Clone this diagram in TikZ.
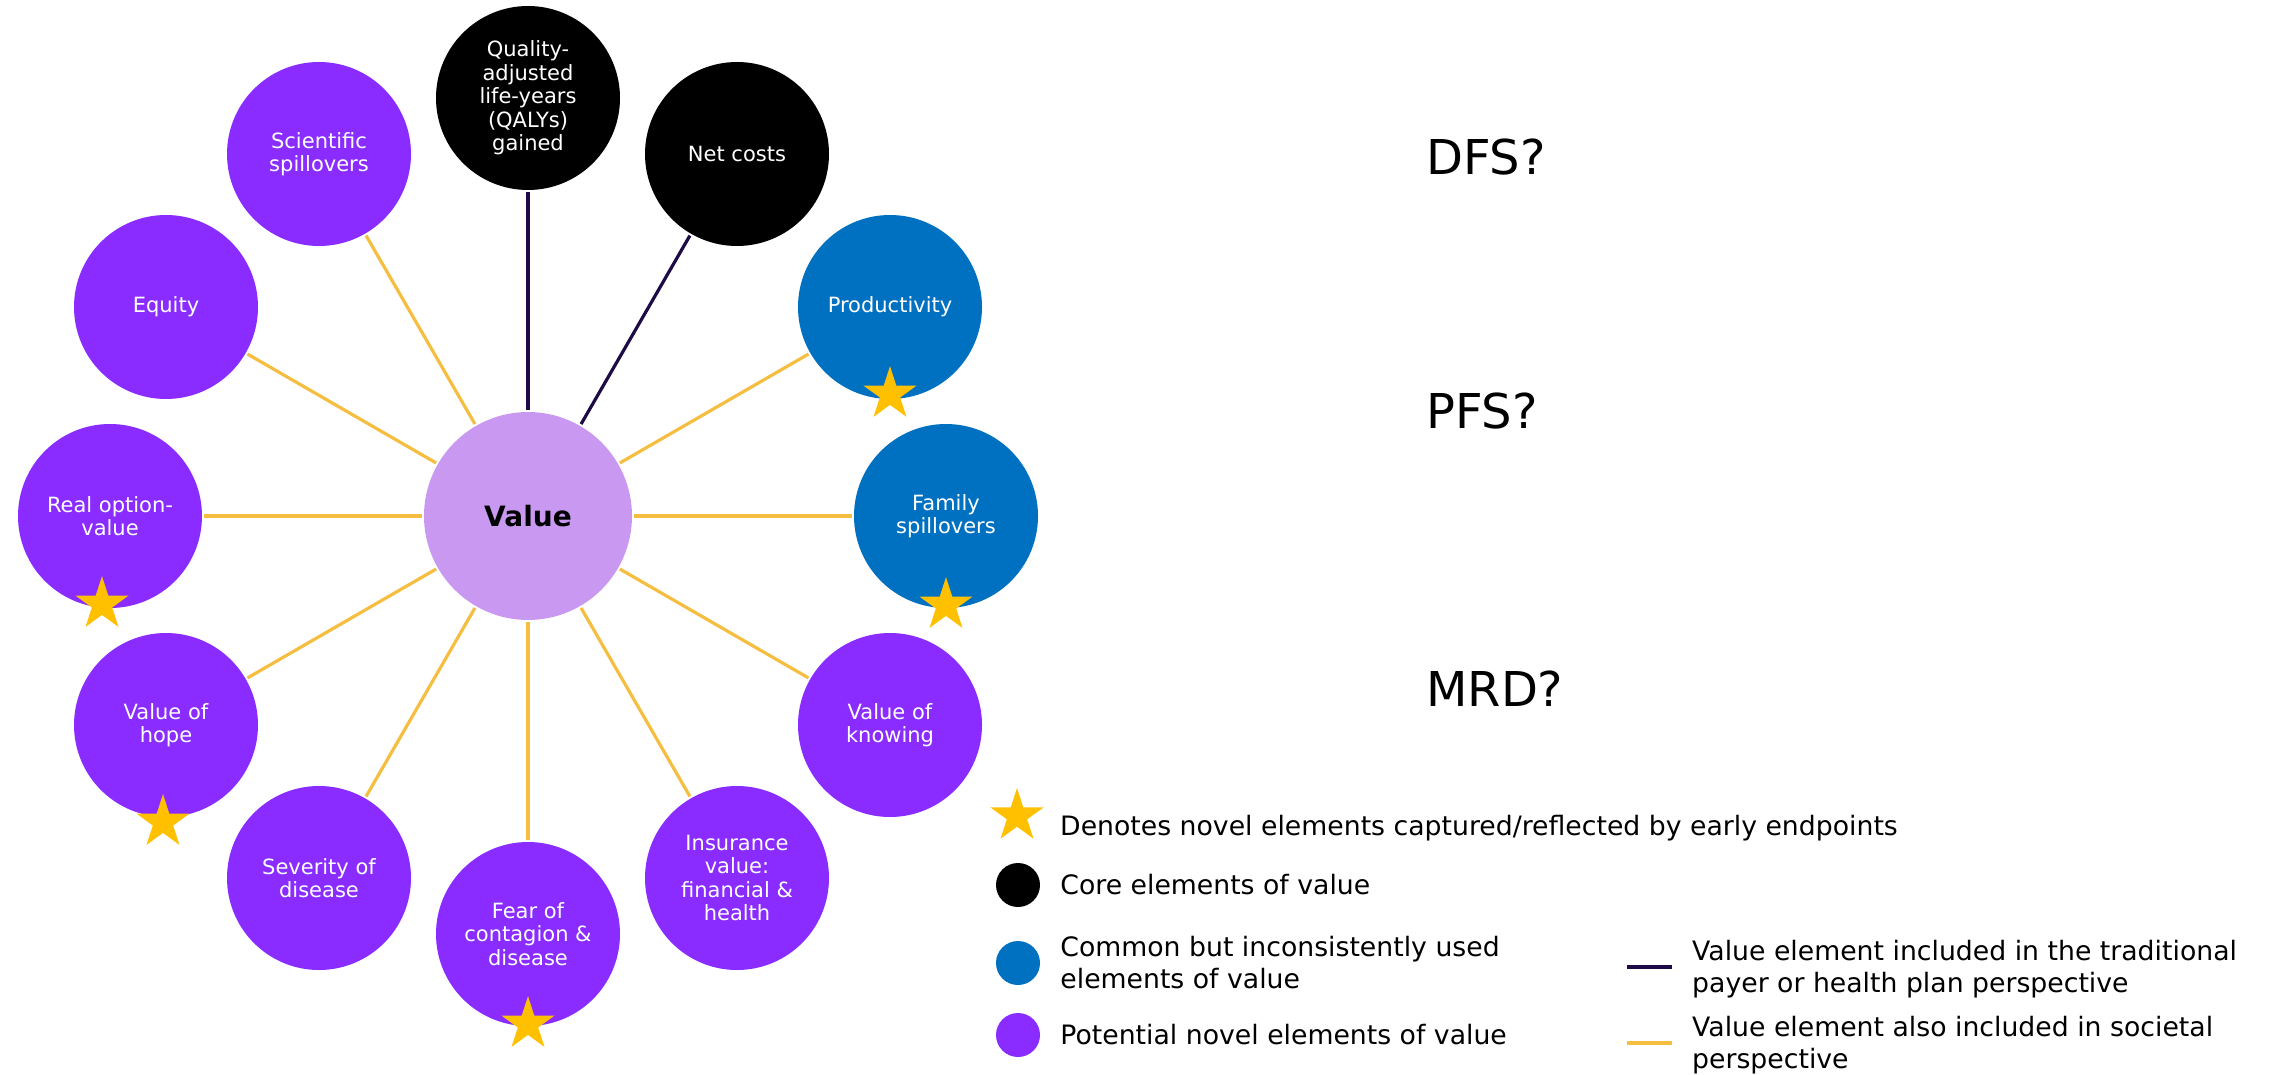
\documentclass[tikz,border=0pt]{standalone}
\usepackage{fontspec}
\setmainfont{DejaVu Sans}
\usetikzlibrary{shapes.geometric,positioning,calc}

\definecolor{commoncol}{HTML}{0070C0}
\definecolor{novelcol}{HTML}{8A2BFF}
\definecolor{valuecol}{HTML}{C999F2}
\definecolor{payercol}{HTML}{1E0A46}
\definecolor{societycol}{HTML}{F5BE41}
\definecolor{starcol}{HTML}{FFC000}

\tikzset{
  elem/.style={circle,minimum size=184pt,inner sep=0pt,text=white,align=center,
    font=\fontsize{21}{23.5}\selectfont},
  core/.style={elem,fill=black},
  common/.style={elem,fill=commoncol},
  novel/.style={elem,fill=novelcol},
  payer/.style={draw=payercol,line width=3.2pt,shorten <=2pt,shorten >=2pt},
  society/.style={draw=societycol,line width=3.2pt,shorten <=2pt,shorten >=2pt},
  novelstar/.style={star,star points=5,star point ratio=2.618,fill=starcol,
    minimum size=56pt,inner sep=0pt},
  legdot/.style={circle,minimum size=44pt,inner sep=0pt},
  legtext/.style={inner sep=0pt,align=left,anchor=west,
    font=\fontsize{26.7}{32}\selectfont},
  question/.style={inner sep=0pt,anchor=west,font=\fontsize{48}{56}\selectfont}
}

\begin{document}
\begin{tikzpicture}[x=1pt,y=1pt]
\useasboundingbox (0,0) rectangle (2269,-1075);
% ---------- centre ----------
\node[circle,fill=valuecol,minimum size=208pt,inner sep=0pt,
  font=\fontsize{28}{32}\selectfont\bfseries] (value) at (528,-516) {Value};
% ---------- elements of value ----------
\node[core]   (qaly)    at ($(value)+(90:418)$)  {Quality-\\adjusted\\life-years\\(QALYs)\\gained};
\node[core]   (costs)   at ($(value)+(60:418)$)  {Net costs};
\node[common] (prod)    at ($(value)+(30:418)$)  {Productivity};
\node[common] (family)  at ($(value)+(0:418)$)   {Family\\spillovers};
\node[novel]  (knowing) at ($(value)+(-30:418)$) {Value of\\knowing};
\node[novel]  (insur)   at ($(value)+(-60:418)$) {Insurance\\value:\\financial \&\\health};
\node[novel]  (fear)    at ($(value)+(-90:418)$) {Fear of\\contagion \&\\disease};
\node[novel]  (sever)   at ($(value)+(-120:418)$) {Severity of\\disease};
\node[novel]  (hope)    at ($(value)+(-150:418)$) {Value of\\hope};
\node[novel]  (option)  at ($(value)+(180:418)$) {Real option-\\value};
\node[novel]  (equity)  at ($(value)+(150:418)$) {Equity};
\node[novel]  (science) at ($(value)+(120:418)$) {Scientific\\spillovers};
% ---------- spokes ----------
\draw[payer] (value) -- (qaly);
\draw[payer] (value) -- (costs);
\draw[society] (value) -- (prod);
\draw[society] (value) -- (family);
\draw[society] (value) -- (knowing);
\draw[society] (value) -- (insur);
\draw[society] (value) -- (fear);
\draw[society] (value) -- (sever);
\draw[society] (value) -- (hope);
\draw[society] (value) -- (option);
\draw[society] (value) -- (equity);
\draw[society] (value) -- (science);
% ---------- stars ----------
\node[novelstar,yshift=5pt] (starprod) at (prod.south) {};
\node[novelstar,yshift=3pt] (starfamily) at (family.south) {};
\node[novelstar,xshift=-8pt,yshift=4pt] (staroption) at (option.south) {};
\node[novelstar,xshift=-3pt,yshift=-5pt] (starhope) at (hope.south) {};
\node[novelstar,yshift=2pt] (starfear) at (fear.south) {};
% ---------- endpoints ----------
\node[question] (dfs) at (1426,-157) {DFS?};
\node[question] (pfs) at (1426,-411) {PFS?};
\node[question] (mrd) at (1426,-689) {MRD?};
% ---------- legend ----------
\node[novelstar] (legstar) at (1017,-816) {};
\node[legtext] (legstartext) at (1060,-828) {Denotes novel elements captured/reflected by early endpoints};
\node[legdot,fill=black] (legcore) at (1018,-885) {};
\node[legtext,right=20pt of legcore] {Core elements of value};
\node[legdot,fill=commoncol] (legcommon) at (1018,-963) {};
\node[legtext,right=20pt of legcommon] {Common but inconsistently used\\elements of value};
\node[legdot,fill=novelcol] (legnovel) at (1018,-1035) {};
\node[legtext,right=20pt of legnovel] {Potential novel elements of value};
\draw[payercol,line width=3.2pt] (1627,-967) -- (1672,-967);
\node[legtext] at (1692,-969) {Value element included in the traditional\\payer or health plan perspective};
\draw[societycol,line width=3.2pt] (1627,-1043) -- (1672,-1043);
\node[legtext] at (1692,-1045) {Value element also included in societal\\perspective};
\end{tikzpicture}
\end{document}
